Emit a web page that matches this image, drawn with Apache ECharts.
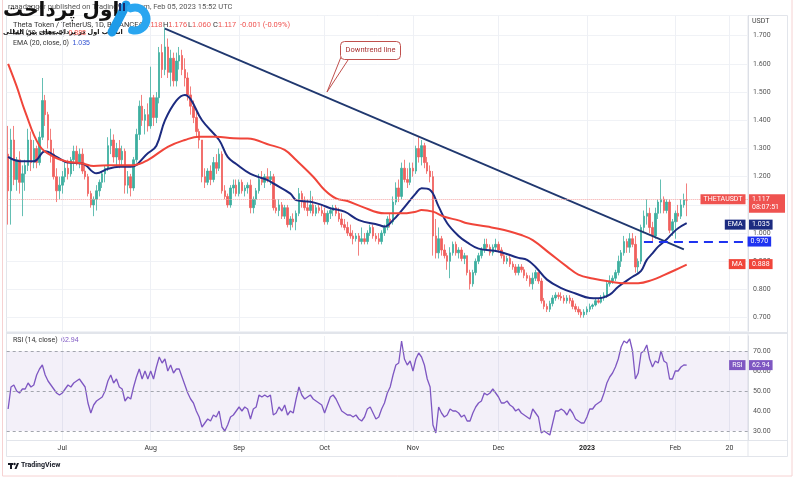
<!DOCTYPE html>
<html><head><meta charset="utf-8">
<script src="https://cdn.jsdelivr.net/npm/echarts@6/dist/echarts.min.js"></script>
<style>html,body{margin:0;padding:0;background:#fff}#c{width:795px;height:478px}</style>
</head><body><div id="c"></div>
<script>
// ---------- data ----------
const startDate = '2022-06-12';
const dayCount = 260;
const tickLabels = {'2022-07-01':'Jul','2022-08-01':'Aug','2022-09-01':'Sep','2022-10-01':'Oct','2022-11-01':'Nov','2022-12-01':'Dec','2023-01-01':'2023','2023-02-01':'Feb','2023-02-20':'20'};
// [open, high, low, close]
const ohlc = [
[1.28,1.38,1.03,1.15],[1.15,1.37,1.03,1.33],[1.33,1.38,1.17,1.19],[1.19,1.27,1.15,1.26],[1.26,1.29,1.14,1.18],[1.18,1.24,1.06,1.21],[1.21,1.26,1.15,1.24],[1.24,1.37,1.22,1.33],[1.33,1.36,1.22,1.25],[1.25,1.33,1.23,1.30],
[1.30,1.31,1.23,1.25],[1.25,1.36,1.24,1.34],[1.34,1.55,1.33,1.47],[1.47,1.49,1.38,1.42],[1.42,1.43,1.30,1.33],[1.33,1.37,1.25,1.28],[1.28,1.30,1.19,1.20],[1.20,1.23,1.11,1.15],[1.15,1.20,1.12,1.17],[1.17,1.22,1.14,1.20],
[1.20,1.25,1.18,1.23],[1.23,1.26,1.19,1.21],[1.21,1.27,1.20,1.26],[1.26,1.31,1.22,1.29],[1.29,1.31,1.24,1.25],[1.25,1.30,1.23,1.28],[1.28,1.30,1.21,1.22],[1.22,1.25,1.19,1.20],[1.20,1.21,1.13,1.14],[1.14,1.15,1.09,1.10],
[1.10,1.13,1.06,1.12],[1.12,1.17,1.08,1.15],[1.15,1.19,1.13,1.18],[1.18,1.22,1.16,1.21],[1.21,1.24,1.18,1.23],[1.23,1.34,1.22,1.31],[1.31,1.37,1.28,1.33],[1.33,1.35,1.25,1.27],[1.27,1.32,1.24,1.30],[1.30,1.33,1.23,1.26],
[1.26,1.31,1.24,1.29],[1.29,1.30,1.14,1.17],[1.17,1.22,1.14,1.20],[1.20,1.21,1.13,1.16],[1.16,1.27,1.15,1.26],[1.26,1.37,1.25,1.35],[1.35,1.47,1.33,1.45],[1.45,1.49,1.38,1.40],[1.40,1.44,1.35,1.42],[1.42,1.46,1.36,1.38],
[1.38,1.59,1.37,1.48],[1.48,1.49,1.38,1.41],[1.41,1.50,1.39,1.48],[1.48,1.66,1.46,1.64],[1.64,1.67,1.55,1.58],[1.58,1.73,1.56,1.66],[1.66,1.69,1.55,1.57],[1.57,1.65,1.52,1.62],[1.62,1.64,1.52,1.54],[1.54,1.64,1.52,1.61],
[1.61,1.66,1.58,1.63],[1.63,1.65,1.56,1.58],[1.58,1.62,1.52,1.55],[1.55,1.57,1.47,1.49],[1.49,1.52,1.42,1.45],[1.45,1.47,1.39,1.41],[1.41,1.43,1.34,1.36],[1.36,1.37,1.30,1.33],[1.33,1.33,1.18,1.20],[1.20,1.23,1.16,1.18],
[1.18,1.23,1.17,1.22],[1.22,1.24,1.17,1.19],[1.19,1.27,1.18,1.25],[1.25,1.28,1.21,1.23],[1.23,1.30,1.22,1.28],[1.28,1.29,1.14,1.15],[1.15,1.17,1.12,1.13],[1.13,1.14,1.09,1.10],[1.10,1.17,1.09,1.16],[1.16,1.19,1.14,1.17],
[1.17,1.19,1.13,1.14],[1.14,1.19,1.13,1.18],[1.18,1.19,1.14,1.15],[1.15,1.17,1.13,1.16],[1.16,1.18,1.14,1.17],[1.17,1.19,1.07,1.09],[1.09,1.13,1.07,1.12],[1.12,1.16,1.10,1.15],[1.15,1.21,1.14,1.19],[1.19,1.22,1.17,1.18],
[1.18,1.21,1.16,1.20],[1.20,1.23,1.18,1.19],[1.19,1.22,1.17,1.20],[1.20,1.21,1.08,1.09],[1.09,1.12,1.07,1.08],[1.08,1.12,1.06,1.10],[1.10,1.11,1.05,1.06],[1.06,1.10,1.05,1.09],[1.09,1.10,1.02,1.03],[1.03,1.06,1.01,1.05],
[1.05,1.07,1.02,1.04],[1.04,1.08,1.01,1.07],[1.07,1.16,1.06,1.14],[1.14,1.15,1.09,1.11],[1.11,1.13,1.08,1.09],[1.09,1.12,1.06,1.08],[1.08,1.15,1.07,1.10],[1.10,1.13,1.06,1.07],[1.07,1.10,1.06,1.09],[1.09,1.10,1.07,1.08],
[1.08,1.10,1.06,1.07],[1.07,1.09,1.03,1.04],[1.04,1.08,1.03,1.07],[1.07,1.09,1.05,1.08],[1.08,1.10,1.06,1.09],[1.09,1.10,1.06,1.07],[1.07,1.09,1.04,1.05],[1.05,1.07,1.02,1.03],[1.03,1.05,1.01,1.02],[1.02,1.04,0.99,1.00],
[1.00,1.03,0.98,0.99],[0.99,1.01,0.96,0.98],[0.98,1.00,0.97,0.99],[0.99,1.00,0.92,0.97],[0.97,1.02,0.96,0.98],[0.98,1.00,0.96,0.97],[0.97,1.01,0.96,1.00],[1.00,1.03,0.99,1.02],[1.02,1.03,0.98,0.99],[0.99,1.00,0.97,0.98],
[0.98,1.00,0.96,0.97],[0.97,1.01,0.96,1.00],[1.00,1.03,0.99,1.02],[1.02,1.06,1.01,1.05],[1.05,1.07,1.02,1.04],[1.04,1.13,1.03,1.11],[1.11,1.18,1.10,1.16],[1.16,1.19,1.11,1.13],[1.13,1.25,1.12,1.23],[1.23,1.26,1.18,1.19],
[1.19,1.23,1.16,1.18],[1.18,1.25,1.17,1.23],[1.23,1.25,1.20,1.22],[1.22,1.31,1.21,1.30],[1.30,1.34,1.25,1.27],[1.27,1.33,1.24,1.31],[1.31,1.32,1.23,1.25],[1.25,1.27,1.21,1.22],[1.22,1.24,1.18,1.20],[1.20,1.22,0.92,0.99],
[0.99,1.05,0.91,0.93],[0.93,1.02,0.91,0.98],[0.98,0.99,0.92,0.94],[0.94,0.96,0.91,0.92],[0.92,0.93,0.87,0.90],[0.90,0.95,0.84,0.93],[0.93,0.97,0.92,0.96],[0.96,0.97,0.92,0.93],[0.93,0.95,0.91,0.94],[0.94,0.95,0.90,0.91],
[0.91,0.93,0.89,0.92],[0.92,0.92,0.85,0.86],[0.86,0.87,0.80,0.82],[0.82,0.87,0.81,0.86],[0.86,0.91,0.85,0.90],[0.90,0.93,0.89,0.92],[0.92,0.95,0.91,0.94],[0.94,0.98,0.93,0.96],[0.96,0.98,0.94,0.95],[0.95,0.96,0.92,0.93],
[0.93,0.96,0.92,0.95],[0.95,0.98,0.94,0.96],[0.96,0.97,0.93,0.94],[0.94,0.95,0.91,0.92],[0.92,0.93,0.89,0.90],[0.90,0.92,0.89,0.91],[0.91,0.92,0.88,0.89],[0.89,0.90,0.87,0.88],[0.88,0.89,0.85,0.86],[0.86,0.89,0.85,0.88],
[0.88,0.89,0.86,0.87],[0.87,0.88,0.84,0.85],[0.85,0.86,0.83,0.84],[0.84,0.85,0.81,0.82],[0.82,0.86,0.80,0.84],[0.84,0.87,0.83,0.86],[0.86,0.86,0.82,0.83],[0.83,0.84,0.75,0.76],[0.76,0.77,0.73,0.74],[0.74,0.75,0.72,0.73],
[0.73,0.76,0.72,0.75],[0.75,0.78,0.74,0.77],[0.77,0.79,0.76,0.78],[0.78,0.79,0.765,0.775],[0.775,0.79,0.76,0.77],[0.77,0.78,0.75,0.76],[0.76,0.78,0.75,0.77],[0.77,0.78,0.75,0.76],[0.76,0.77,0.73,0.74],[0.74,0.75,0.72,0.73],
[0.73,0.74,0.71,0.72],[0.72,0.73,0.70,0.71],[0.71,0.73,0.70,0.72],[0.72,0.74,0.71,0.73],[0.73,0.75,0.72,0.74],[0.74,0.75,0.73,0.745],[0.745,0.77,0.74,0.76],[0.76,0.77,0.75,0.755],[0.755,0.78,0.75,0.77],[0.77,0.79,0.76,0.78],
[0.78,0.83,0.77,0.82],[0.82,0.85,0.81,0.83],[0.83,0.85,0.82,0.84],[0.84,0.87,0.83,0.86],[0.86,0.92,0.85,0.90],[0.90,0.94,0.88,0.93],[0.93,0.99,0.92,0.97],[0.97,0.98,0.93,0.95],[0.95,1.00,0.93,0.98],[0.98,1.00,0.95,0.96],
[0.96,0.99,0.86,0.88],[0.88,0.91,0.86,0.90],[0.90,1.03,0.89,1.02],[1.02,1.08,1.00,1.06],[1.06,1.12,1.03,1.07],[1.07,1.09,1.00,1.02],[1.02,1.04,0.97,0.99],[0.99,1.09,0.98,1.07],[1.07,1.12,1.05,1.11],[1.11,1.19,1.07,1.12],
[1.12,1.13,1.07,1.08],[1.08,1.12,1.07,1.11],[1.11,1.12,1.00,1.01],[1.01,1.05,0.99,1.04],[1.04,1.08,0.98,1.07],[1.07,1.10,1.04,1.06],[1.06,1.12,1.05,1.10],[1.10,1.14,1.09,1.118],[1.118,1.176,1.060,1.117]
];
// [day index, value]
const ema20 = [[0,1.27],[4,1.255],[9,1.255],[13,1.29],[17,1.27],[21,1.25],[26,1.247],[31,1.212],[35,1.228],[39,1.235],[43,1.235],[49,1.283],[52,1.31],[55,1.40],[59,1.47],[62,1.49],[64,1.475],[68,1.40],[74,1.33],[77,1.27],[80,1.245],[85,1.21],[91,1.188],[93,1.176],[99,1.14],[101,1.117],[106,1.111],[110,1.10],[113,1.088],[118,1.076],[123,1.046],[130,1.029],[132,1.023],[135,1.046],[138,1.08],[143,1.141],[145,1.159],[148,1.153],[151,1.094],[154,1.035],[158,0.99],[161,0.967],[165,0.945],[172,0.935],[179,0.912],[182,0.905],[185,0.88],[189,0.835],[194,0.805],[199,0.786],[204,0.77],[207,0.769],[211,0.782],[214,0.81],[219,0.845],[222,0.866],[224,0.905],[226,0.928],[228,0.952],[231,0.978],[233,0.999],[235,1.017],[238,1.035]];
const ma50 = [[0,1.60],[3,1.52],[6,1.43],[11,1.31],[16,1.27],[21,1.253],[26,1.247],[30,1.238],[36,1.241],[44,1.241],[49,1.259],[56,1.306],[62,1.33],[67,1.342],[73,1.342],[79,1.336],[84,1.335],[92,1.312],[97,1.295],[101,1.259],[107,1.20],[111,1.153],[115,1.123],[119,1.114],[124,1.094],[132,1.07],[138,1.07],[143,1.076],[145,1.082],[149,1.076],[153,1.058],[158,1.045],[161,1.035],[168,1.023],[174,1.011],[180,0.993],[184,0.975],[190,0.928],[196,0.881],[200,0.853],[205,0.839],[211,0.828],[216,0.822],[221,0.822],[226,0.834],[230,0.851],[234,0.869],[238,0.888]];
const rsi14 = [
41,52,53,50,49,51,51,54,52,53,
58,61,63,58,55,53,51,49,48,49,
51,53,52,54,55,56,54,52,44,39,
43,45,46,47,50,55,58,54,56,52,
51,45,47,46,52,57,61,56,60,56,
60,56,62,67,64,66,60,63,59,61,
61,57,53,49,46,44,40,37,32,34,
36,35,38,37,40,32,30,33,37,38,
40,42,40,42,41,36,41,42,48,47,
48,47,48,38,39,42,40,43,38,40,
39,46,52,48,46,47,48,46,45,44,
43,39,43,47,48,46,43,40,39,38,
38,37,38,36,35,37,41,42,39,36,
37,41,44,49,52,58,63,64,75,66,
63,65,60,66,69,67,63,56,52,33,
29,42,39,37,38,41,40,40,39,37,
38,35,35,39,42,44,45,49,48,49,
51,49,47,44,44,45,43,42,40,41,
39,38,37,36,41,39,37,29,30,29,
28,34,40,40,41,40,38,41,39,36,
35,34,34,37,41,41,43,44,45,49,
54,57,59,62,66,72,75,74,76,70,
56,59,69,70,73,66,62,65,64,70,
65,64,56,56,60,60,62,63,62.94
];
const downtrend = [['2022-08-06',1.725],['2023-02-04',0.942]];
const support = [['2023-01-21',0.970],['2023-02-26',0.970]];
const lastClose = 1.117, countdown = '08:07:51', emaLast = 1.035, maLast = 0.888, rsiLast = 62.94;
const rsiBands = [70, 50, 30];

// ---------- build ----------
const cats = [];
const t0 = Date.parse(startDate + 'T00:00:00Z');
for (let i = 0; i < dayCount; i++) cats.push(new Date(t0 + i * 864e5).toISOString().slice(0, 10));
const candleData = ohlc.map(r => [r[0], r[3], r[2], r[1]]);
const emaData = ema20.map(p => [cats[p[0]], p[1]]);
const maData = ma50.map(p => [cats[p[0]], p[1]]);

const F = 'Roboto, "Noto Sans", sans-serif';
const RED = '#ef5350', NAVY = '#1c2b80', MARED = '#f0453a', BLUE = '#1f33f0', PURPLE = '#7e57c2';
function valueTag(text, bg, w) {
  return {show: true, position: 'end', distance: 1, formatter: text, backgroundColor: bg, color: '#fff',
    fontSize: 7, fontFamily: F, lineHeight: 8, padding: [1, 3, 1, 3], width: w, align: 'left'};
}
function nameTag(text, bg) {
  return {show: true, position: 'insideEnd', distance: 2.5, formatter: text, backgroundColor: bg, color: '#fff',
    fontSize: 7, fontFamily: F, lineHeight: 8, padding: [1, 3, 1, 3]};
}
const hidden = {color: 'rgba(0,0,0,0)', width: 1};
const isTick = (i, v) => !!tickLabels[v];

const chart = echarts.init(document.getElementById('c'), null, {renderer: 'canvas'});
chart.setOption({
  animation: false,
  backgroundColor: '#fff',
  textStyle: {fontFamily: F},
  grid: [
    {left: 6.7, right: 47, top: 15.7, height: 315.3, outerBoundsMode: 'none'},
    {left: 6.7, right: 47, top: 336, height: 104, outerBoundsMode: 'none'}
  ],
  xAxis: [
    {type: 'category', gridIndex: 0, data: cats, boundaryGap: true,
      axisLine: {show: false}, axisTick: {show: false}, axisLabel: {show: false},
      splitLine: {show: true, interval: isTick, alignWithLabel: true, lineStyle: {color: '#eef0f5'}}},
    {type: 'category', gridIndex: 1, data: cats, boundaryGap: true,
      axisLine: {show: false}, axisTick: {show: false},
      axisLabel: {show: true, interval: isTick, margin: 5, fontSize: 7, color: '#333',
        formatter: v => tickLabels[v] === '2023' ? '{b|2023}' : (tickLabels[v] || ''),
        rich: {b: {fontWeight: 'bold', fontSize: 7, color: '#222'}}},
      splitLine: {show: true, interval: isTick, alignWithLabel: true, lineStyle: {color: '#eef0f5'}}}
  ],
  yAxis: [
    {type: 'value', gridIndex: 0, position: 'right', min: 0.6528, max: 1.7709, splitNumber: 11,
      axisLine: {show: true, lineStyle: {color: '#dcdfe6'}}, axisTick: {show: false},
      axisLabel: {fontSize: 7, color: '#555', margin: 5, showMinLabel: false, showMaxLabel: false, formatter: v => v.toFixed(3)},
      splitLine: {show: true, lineStyle: {color: '#f0f2f6'}}},
    {type: 'value', gridIndex: 1, position: 'right', min: 25.5, max: 77.5, splitNumber: 5,
      axisLine: {show: true, lineStyle: {color: '#dcdfe6'}}, axisTick: {show: false},
      axisLabel: {fontSize: 7, color: '#555', margin: 5, showMinLabel: false, showMaxLabel: false, formatter: v => v.toFixed(2)},
      splitLine: {show: false}}
  ],
  series: [
    {type: 'candlestick', xAxisIndex: 0, yAxisIndex: 0, data: candleData, barWidth: 2,
      itemStyle: {color: '#3cae9f', color0: '#f0605d', borderColor: '#3cae9f', borderColor0: '#f0605d', borderWidth: 0.8},
      markLine: {symbol: ['none', 'none'], silent: true, animation: false,
        data: [
          {yAxis: lastClose, lineStyle: {color: '#f4a5a5', type: 'dotted', width: 1}, label: valueTag(lastClose.toFixed(3), RED, 30)},
          {yAxis: lastClose, lineStyle: hidden, label: nameTag('THETAUSDT', RED)},
          {yAxis: lastClose - 0.0305, lineStyle: hidden, label: valueTag(countdown, RED, 30)},
          [{coord: support[0], lineStyle: {color: BLUE, width: 2.2, type: [9, 6]}, label: valueTag(support[0][1].toFixed(3), BLUE)},
           {coord: support[1]}]
        ]}},
    {type: 'line', name: 'EMA', xAxisIndex: 0, yAxisIndex: 0, data: emaData, smooth: 0.4, symbol: 'none',
      lineStyle: {color: NAVY, width: 2}, z: 3,
      markLine: {symbol: ['none', 'none'], silent: true, animation: false,
        data: [{yAxis: emaLast, lineStyle: hidden, label: valueTag(emaLast.toFixed(3), NAVY)},
               {yAxis: emaLast, lineStyle: hidden, label: nameTag('EMA', NAVY)}]}},
    {type: 'line', name: 'MA', xAxisIndex: 0, yAxisIndex: 0, data: maData, smooth: 0.4, symbol: 'none',
      lineStyle: {color: MARED, width: 2}, z: 3,
      markLine: {symbol: ['none', 'none'], silent: true, animation: false,
        data: [{yAxis: maLast, lineStyle: hidden, label: valueTag(maLast.toFixed(3), MARED)},
               {yAxis: maLast, lineStyle: hidden, label: nameTag('MA', MARED)}]}},
    {type: 'line', name: 'Downtrend', xAxisIndex: 0, yAxisIndex: 0, data: downtrend, symbol: 'none',
      lineStyle: {color: '#20386f', width: 1.8}, z: 4},
    {type: 'line', name: 'RSI', xAxisIndex: 1, yAxisIndex: 1, data: rsi14, symbol: 'none',
      lineStyle: {color: PURPLE, width: 1.3}, z: 3,
      markArea: {silent: true, itemStyle: {color: 'rgba(126,87,194,0.09)'}, data: [[{yAxis: 30}, {yAxis: 70}]]},
      markLine: {symbol: ['none', 'none'], silent: true, animation: false,
        data: rsiBands.map(v => ({yAxis: v, lineStyle: {color: '#a3a6ae', type: [3, 3], width: 1}, label: {show: false}}))
          .concat([{yAxis: rsiLast, lineStyle: hidden, label: valueTag(rsiLast.toFixed(2), PURPLE)},
                   {yAxis: rsiLast, lineStyle: hidden, label: nameTag('RSI', PURPLE)}])}}
  ],
  graphic: [
    {type: 'rect', silent: true, z: -10, shape: {x: 2.5, y: -1, width: 789.5, height: 477}, style: {fill: 'none', stroke: '#f6d2d2'}},
    {type: 'rect', silent: true, z: -9, shape: {x: 6.5, y: 15.5, width: 781, height: 441}, style: {fill: 'none', stroke: '#e2e5eb'}},
    {type: 'line', silent: true, shape: {x1: 748, y1: 15.5, x2: 748, y2: 456.5}, style: {stroke: '#e2e5eb'}},
    {type: 'line', silent: true, shape: {x1: 6.5, y1: 333, x2: 787, y2: 333}, style: {stroke: '#e2e5eb', lineWidth: 2}},
    {type: 'line', silent: true, shape: {x1: 6.5, y1: 440.5, x2: 787, y2: 440.5}, style: {stroke: '#e2e5eb'}},
    // header
    {type: 'text', silent: true, left: 8, top: 3, style: {text: 'raaadagger published on TradingView.com, Feb 05, 2023 15:52 UTC', fontSize: 7.5, fill: '#555', fontFamily: F}},
    {type: 'text', silent: true, left: 13, top: 21, style: {text: 'Theta Token / TetherUS, 1D, BINANCE', fontSize: 7.5, fill: '#333', fontFamily: F}},
    {type: 'text', silent: true, left: 139, top: 21, style: {text: 'O{r|1.118}', fontSize: 7.5, fill: '#333', fontFamily: F, rich: {r: {fill: RED, fontSize: 7.5}}}},
    {type: 'text', silent: true, left: 163, top: 21, style: {text: 'H{r|1.176}', fontSize: 7.5, fill: '#333', fontFamily: F, rich: {r: {fill: RED, fontSize: 7.5}}}},
    {type: 'text', silent: true, left: 188, top: 21, style: {text: 'L{r|1.060}', fontSize: 7.5, fill: '#333', fontFamily: F, rich: {r: {fill: RED, fontSize: 7.5}}}},
    {type: 'text', silent: true, left: 213, top: 21, style: {text: 'C{r|1.117}', fontSize: 7.5, fill: '#333', fontFamily: F, rich: {r: {fill: RED, fontSize: 7.5}}}},
    {type: 'text', silent: true, left: 240, top: 21, style: {text: '-0.001 (-0.09%)', fontSize: 7.5, fill: RED, fontFamily: F}},
    {type: 'text', silent: true, left: 13, top: 30, style: {text: 'MA (50, close, 0)  {r|0.888}', fontSize: 7, fill: '#333', fontFamily: F, rich: {r: {fill: MARED, fontSize: 7}}}},
    {type: 'text', silent: true, left: 13, top: 40, style: {text: 'EMA (20, close, 0)  {r|1.035}', fontSize: 7, fill: '#333', fontFamily: F, rich: {r: {fill: '#2f4fd0', fontSize: 7}}}},
    {type: 'text', silent: true, left: 13, top: 337, style: {text: 'RSI (14, close)  {r|62.94}', fontSize: 7, fill: '#333', fontFamily: F, rich: {r: {fill: PURPLE, fontSize: 7}}}},
    {type: 'text', silent: true, left: 752, top: 18, style: {text: 'USDT', fontSize: 7, fill: '#444', fontFamily: F}},
    // logo
    {type: 'text', silent: true, left: 3, top: 1, z: 20, style: {text: 'اول پرداخت', fontSize: 20, fontWeight: 'bold', fill: '#111', fontFamily: '"DejaVu Sans"'}},
    {type: 'text', silent: true, left: 3, top: 29, z: 20, style: {text: 'انتخاب اول در پرداخت‌های بین المللی', fontSize: 6.5, fontWeight: 'bold', fill: '#111', fontFamily: '"DejaVu Sans"'}},
    {type: 'polyline', silent: true, z: 20, shape: {points: [[112, 32], [126, 5]]}, style: {stroke: '#1e9be8', lineWidth: 9, lineCap: 'round', fill: 'none'}},
    {type: 'arc', silent: true, z: 20, shape: {cx: 135, cy: 19, r: 11.5, startAngle: -Math.PI * 0.62, endAngle: Math.PI * 0.58}, style: {stroke: '#2aa6f0', lineWidth: 8, fill: 'none', lineCap: 'round'}},
    {type: 'rect', silent: true, z: 21, shape: {x: 119, y: 3, width: 2, height: 8}, style: {fill: '#1b2f6e'}},
    {type: 'rect', silent: true, z: 21, shape: {x: 123, y: 3, width: 2, height: 8}, style: {fill: '#1b2f6e'}},
    // callout
    {type: 'polyline', silent: true, z: 10, shape: {points: [[341, 57], [327, 92], [348, 60]]}, style: {stroke: '#c0504d', lineWidth: 1, fill: 'none'}},
    {type: 'rect', silent: true, z: 10, shape: {x: 340.5, y: 41.5, width: 60, height: 18, r: 4}, style: {fill: '#fff', stroke: '#c0504d', lineWidth: 1}},
    {type: 'text', silent: true, z: 11, x: 370.5, y: 50.5, style: {text: 'Downtrend line', fontSize: 7.5, fill: '#a83232', fontFamily: F, align: 'center', verticalAlign: 'middle'}},
    // TradingView mark
    {type: 'rect', silent: true, shape: {x: 8, y: 463, width: 5, height: 2}, style: {fill: '#131722'}},
    {type: 'rect', silent: true, shape: {x: 10, y: 463, width: 2, height: 6}, style: {fill: '#131722'}},
    {type: 'circle', silent: true, shape: {cx: 14.5, cy: 464, r: 1.2}, style: {fill: '#131722'}},
    {type: 'polygon', silent: true, shape: {points: [[14.5, 469], [17, 463], [19, 463], [16.5, 469]]}, style: {fill: '#131722'}},
    {type: 'text', silent: true, left: 21, top: 462, style: {text: 'TradingView', fontSize: 7, fontWeight: 'bold', fill: '#131722', fontFamily: F}}
  ]
});
</script></body></html>
